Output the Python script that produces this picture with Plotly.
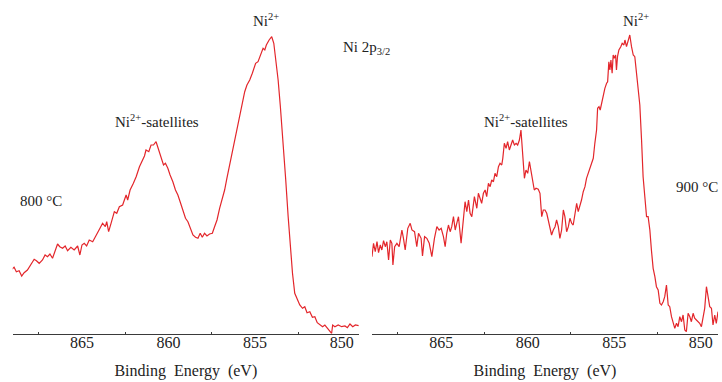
import plotly.graph_objects as go

# Ni 2p3/2 XPS spectra, binding energy (eV) vs intensity (a.u.)
be_800 = [869.05, 868.92, 868.79, 868.63, 868.48, 868.34, 868.15, 867.95, 867.76, 867.63,
          867.47, 867.28, 867.13, 866.99, 866.85, 866.70, 866.55, 866.41, 866.28, 866.12,
          865.97, 865.83, 865.64, 865.45, 865.25, 865.12, 865.00, 864.87, 864.73, 864.58,
          864.38, 864.23, 864.09, 863.96, 863.81, 863.65, 863.57, 863.46, 863.32, 863.13,
          862.99, 862.84, 862.65, 862.45, 862.36, 862.22, 862.03, 861.87, 861.68, 861.53,
          861.39, 861.30, 861.14, 861.01, 860.87, 860.72, 860.56, 860.43, 860.29, 860.18,
          860.04, 859.91, 859.75, 859.60, 859.46, 859.33, 859.17, 859.02, 858.88, 858.75,
          858.59, 858.44, 858.30, 858.17, 858.05, 857.92, 857.78, 857.63, 857.47, 857.34,
          857.20, 857.05, 856.90, 856.76, 856.63, 856.47, 856.32, 856.18, 856.05, 855.89,
          855.74, 855.60, 855.47, 855.31, 855.16, 855.06, 854.97, 854.83, 854.70, 854.54,
          854.44, 854.35, 854.19, 854.04, 853.92, 853.81, 853.67, 853.54, 853.38, 853.23,
          853.09, 852.96, 852.84, 852.71, 852.57, 852.42, 852.26, 852.13, 852.00, 851.84,
          851.69, 851.55, 851.41, 851.26, 851.10, 850.97, 850.83, 850.68, 850.58, 850.52,
          850.39, 850.20, 850.00, 849.81, 849.67, 849.52, 849.36, 849.21, 849.02]
int_800 = [64.7, 66.7, 62.3, 63.3, 58.0, 61.3, 64.0, 69.0, 74.7, 73.3,
           70.7, 74.0, 79.0, 77.3, 80.0, 75.7, 84.0, 90.0, 87.3, 85.7,
           88.0, 83.3, 86.7, 84.0, 88.0, 79.0, 89.0, 90.7, 88.0, 94.0,
           92.3, 96.7, 100.7, 105.7, 110.7, 107.3, 112.3, 102.3, 110.7, 122.3,
           120.7, 127.3, 129.0, 139.0, 134.0, 144.0, 150.7, 157.3, 167.3, 172.3,
           178.0, 184.0, 182.3, 189.0, 189.0, 192.3, 184.0, 177.3, 169.0, 170.7,
           165.7, 159.0, 152.3, 144.0, 139.0, 132.3, 122.3, 115.7, 112.3, 105.7,
           99.0, 96.7, 95.7, 100.7, 96.7, 100.7, 98.0, 100.0, 100.7, 107.3,
           114.0, 125.7, 134.0, 144.0, 155.7, 169.0, 180.7, 194.0, 204.0, 215.7,
           230.7, 242.3, 249.0, 254.0, 260.7, 265.7, 270.7, 272.3, 279.0, 285.7,
           284.0, 289.0, 294.0, 297.3, 290.7, 274.0, 254.0, 227.3, 194.0, 154.0,
           117.3, 84.0, 60.7, 40.7, 34.0, 29.0, 25.7, 27.3, 21.3, 22.3,
           16.7, 17.3, 11.3, 9.0, 7.3, 9.0, 5.7, 2.3, 0.7, 9.0,
           7.3, 9.0, 7.3, 8.0, 6.3, 10.0, 7.3, 9.0, 8.3]

be_900 = [869.00, 868.91, 868.81, 868.71, 868.62, 868.52, 868.43, 868.33, 868.23, 868.14,
          868.04, 867.94, 867.85, 867.79, 867.69, 867.56, 867.43, 867.27, 867.18, 867.08,
          866.93, 866.79, 866.69, 866.54, 866.41, 866.31, 866.16, 866.08, 865.96, 865.83,
          865.69, 865.54, 865.39, 865.25, 865.12, 865.00, 864.87, 864.77, 864.68, 864.58,
          864.48, 864.39, 864.29, 864.19, 864.10, 864.00, 863.85, 863.71, 863.62, 863.52,
          863.42, 863.33, 863.23, 863.08, 862.94, 862.85, 862.75, 862.66, 862.56, 862.46,
          862.37, 862.27, 862.17, 862.08, 861.98, 861.89, 861.79, 861.69, 861.60, 861.50,
          861.44, 861.35, 861.25, 861.16, 861.06, 860.96, 860.87, 860.77, 860.67, 860.58,
          860.48, 860.39, 860.29, 860.19, 860.10, 860.00, 859.90, 859.81, 859.71, 859.62,
          859.52, 859.39, 859.29, 859.19, 859.10, 859.00, 858.90, 858.81, 858.71, 858.62,
          858.52, 858.42, 858.33, 858.23, 858.14, 858.04, 857.94, 857.85, 857.75, 857.65,
          857.56, 857.46, 857.37, 857.27, 857.17, 857.08, 856.98, 856.89, 856.79, 856.69,
          856.60, 856.50, 856.40, 856.31, 856.21, 856.12, 856.02, 855.96, 855.88, 855.81,
          855.73, 855.63, 855.54, 855.44, 855.38, 855.31, 855.25, 855.19, 855.12, 855.06,
          855.00, 854.92, 854.87, 854.81, 854.73, 854.62, 854.54, 854.44, 854.38, 854.29,
          854.19, 854.10, 854.00, 853.90, 853.81, 853.71, 853.61, 853.52, 853.42, 853.33,
          853.23, 853.13, 853.04, 852.94, 852.85, 852.75, 852.65, 852.56, 852.46, 852.36,
          852.27, 852.17, 852.08, 851.98, 851.88, 851.79, 851.69, 851.60, 851.50, 851.40,
          851.31, 851.21, 851.11, 851.02, 850.92, 850.83, 850.73, 850.63, 850.54, 850.44,
          850.35, 850.25, 850.15, 850.06, 849.96, 849.86, 849.77, 849.67, 849.58, 849.48,
          849.38, 849.29, 849.19, 849.10, 849.00]
int_900 = [77.3, 90.7, 82.3, 92.3, 81.3, 89.0, 84.0, 93.3, 87.3, 92.3,
           74.0, 94.0, 90.7, 69.0, 87.3, 90.7, 87.3, 104.0, 95.7, 84.0,
           105.7, 110.7, 104.0, 102.3, 87.3, 100.7, 95.7, 78.0, 97.3, 95.7,
           90.7, 77.3, 95.7, 107.3, 104.0, 105.7, 97.3, 87.3, 100.7, 109.0,
           102.3, 107.3, 117.3, 104.0, 110.7, 117.3, 90.7, 117.3, 132.3, 122.3,
           134.0, 120.7, 117.3, 137.3, 125.7, 140.7, 134.0, 130.7, 140.7, 144.0,
           137.3, 150.7, 147.3, 154.0, 152.3, 160.7, 157.3, 167.3, 170.7, 169.0,
           175.7, 190.7, 185.7, 192.3, 184.0, 190.7, 194.0, 189.0, 190.7, 189.0,
           194.0, 204.0, 177.3, 155.7, 164.0, 160.7, 172.3, 164.0, 154.0, 144.0,
           145.7, 144.7, 140.7, 117.3, 124.0, 124.0, 120.7, 114.0, 107.3, 99.0,
           104.0, 107.3, 114.0, 107.3, 95.7, 104.0, 124.0, 117.3, 102.3, 107.3,
           115.7, 110.7, 109.0, 120.7, 130.7, 122.3, 127.3, 134.0, 142.3, 147.3,
           155.7, 160.7, 167.3, 172.3, 175.7, 190.7, 204.0, 225.7, 227.3, 224.0,
           230.7, 237.3, 245.7, 250.7, 252.3, 272.3, 264.0, 274.0, 260.7, 279.0,
           275.7, 279.0, 264.0, 277.3, 284.0, 287.3, 290.7, 289.0, 294.0, 287.3,
           292.3, 299.0, 287.3, 279.0, 277.3, 260.7, 242.3, 229.0, 194.0, 157.3,
           137.3, 117.3, 117.3, 104.0, 84.0, 65.7, 57.3, 47.3, 44.0, 30.7,
           29.0, 32.3, 37.3, 49.0, 29.0, 27.3, 17.3, 10.7, 5.7, 10.7,
           7.3, 17.3, 12.3, 19.0, 4.0, 2.3, 20.7, 17.3, 12.3, 20.7,
           15.7, 14.0, 12.3, 10.7, 7.3, 17.3, 25.7, 47.3, 37.3, 27.3,
           25.7, 9.0, 19.0, 10.7, 22.3]

tick_vals = [865, 860, 855, 850]
minor_vals = [867.5, 862.5, 857.5, 852.5]
x_title = "Binding  Energy  (eV)"

FONT = "Liberation Serif, Times New Roman, Times, DejaVu Serif, serif"
RED = "#e3262b"
AXIS = "#3a3a3a"
TEXT = "#222222"

fig = go.Figure()
fig.add_trace(go.Scatter(x=be_800, y=int_800, mode="lines", xaxis="x", yaxis="y",
                         line=dict(color=RED, width=1.2), cliponaxis=False, showlegend=False))
fig.add_trace(go.Scatter(x=be_900, y=int_900, mode="lines", xaxis="x2", yaxis="y2",
                         line=dict(color=RED, width=1.2), cliponaxis=False, showlegend=False))


def x_axis(domain, anchor):
    return dict(
        domain=domain, anchor=anchor, range=[869.0, 849.0],
        showline=True, linecolor=AXIS, linewidth=1, mirror=False,
        showgrid=False, zeroline=False,
        tickmode="array", tickvals=tick_vals, ticktext=[str(v) for v in tick_vals],
        ticks="", ticklen=0, ticklabelstandoff=-6,
        minor=dict(tickmode="array", tickvals=minor_vals, ticks="inside",
                   ticklen=2, tickcolor=AXIS, showgrid=False),
        tickfont=dict(family=FONT, size=16, color=TEXT),
        title=dict(text=x_title, font=dict(family=FONT, size=16, color=TEXT), standoff=14),
    )


def y_axis(domain, anchor):
    return dict(domain=domain, anchor=anchor, range=[0, 300], visible=False, fixedrange=True)


fig.update_layout(
    width=722, height=382,
    margin=dict(l=0, r=0, t=34, b=48),
    paper_bgcolor="white", plot_bgcolor="white",
    xaxis=x_axis([0.0176, 0.4972], "y"),
    yaxis=y_axis([0, 1], "x"),
    xaxis2=x_axis([0.5152, 0.9945], "y2"),
    yaxis2=y_axis([0, 1], "x2"),
    font=dict(family=FONT, size=15, color=TEXT),
)


# Label positions are given in page pixels and converted to paper fractions
def page_label(text, px, py, size=15):
    fig.add_annotation(text=text, x=px / 722, y=(382 - py - 48) / (382 - 34 - 48),
                       xref="paper", yref="paper", xanchor="center", yanchor="middle",
                       showarrow=False, font=dict(family=FONT, size=size, color=TEXT))


page_label("Ni<sup>2+</sup>", 266, 20)
page_label("Ni<sup>2+</sup>-satellites", 157, 121)
page_label("Ni 2p<sub>3/2</sub>", 366, 48)
page_label("800 °C", 41, 201)
page_label("Ni<sup>2+</sup>", 636, 20)
page_label("Ni<sup>2+</sup>-satellites", 526, 121)
page_label("900 °C", 697, 187)

fig.write_html("out.html")
